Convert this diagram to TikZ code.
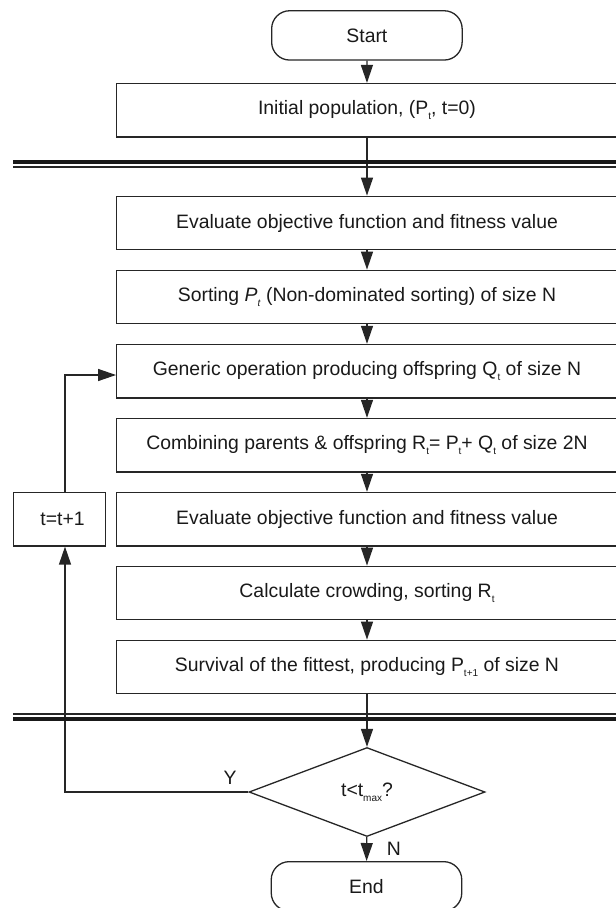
\documentclass[tikz,border=0pt]{standalone}
\usepackage{fontspec}
\setmainfont{Liberation Sans}
\usetikzlibrary{arrows.meta,shapes.geometric,calc}
\newcommand\sbs[1]{\raisebox{-0.45ex}{\fontsize{10}{10}\selectfont #1}}
\begin{document}
\begin{tikzpicture}[x=1pt,y=-1pt,
  every node/.style={font=\fontsize{19.4}{23}\selectfont, text=black!90},
  ln/.style={draw=black!85, line width=1.3pt},
  box/.style={ln, rectangle, minimum width=500.6pt, minimum height=53.5pt, inner sep=0pt},
  term/.style={ln, rectangle, rounded corners=18pt, minimum width=190.5pt, minimum height=49.3pt, inner sep=0pt},
  dec/.style={ln, diamond, minimum width=236pt, minimum height=89pt, inner sep=0pt},
  arr/.style={ln, -{Triangle[length=18pt,width=12pt]}},
  thickrule/.style={draw=black!90, line width=3.6pt},
  thinrule/.style={draw=black!85, line width=1.3pt},
  lbl/.style={inner sep=0pt}
]
\useasboundingbox (0,0) rectangle (616,908);

\node[term] (start) at (366.9,35.4) {Start};
\node[box] (init) at (367,110.3) {Initial population, (P\sbs{t}, t=0)};
\node[box] (ev1) at (367,223) {Evaluate objective function and fitness value};
\node[box] (sort) at (367,297) {Sorting \textit{P}\sbs{\textit{t}} (Non-dominated sorting) of size N};
\node[box] (gen) at (367,371.2) {Generic operation producing offspring Q\sbs{t} of size N};
\node[box] (comb) at (367,445.2) {Combining parents \& offspring R\sbs{t}= P\sbs{t}+ Q\sbs{t} of size 2N};
\node[box] (ev2) at (367,519.2) {Evaluate objective function and fitness value};
\node[box] (calc) at (367,593) {Calculate crowding, sorting R\sbs{t}};
\node[box] (surv) at (367,667) {Survival of the fittest, producing P\sbs{t+1} of size N};
\node[box, minimum width=91.6pt] (tbox) at (59.5,519.2) {\hspace*{6pt}t=t+1};
\node[dec] (dia) at (367,792) {t<t\sbs{max}?};
\node[term] (end) at (366.5,886.3) {End};

\coordinate (lx) at (65,0);
\coordinate (ly) at (0,375);

\draw[arr] (start) -- (init);
\draw[arr] (init) -- (ev1);
\draw[arr] (ev1) -- (sort);
\draw[arr] (sort) -- (gen);
\draw[arr] (gen) -- (comb);
\draw[arr] (comb) -- (ev2);
\draw[arr] (ev2) -- (calc);
\draw[arr] (calc) -- (surv);
\draw[arr] (surv) -- (dia);
\draw[arr] (dia) -- (end);
\draw[arr] (dia.west) -| (tbox.south -| lx);
\draw[arr] (tbox.north -| lx) |- (gen.west |- ly);

\coordinate (r1a) at (13,161.8);
\coordinate (r1b) at (620,161.8);
\coordinate (r2a) at (13,167);
\coordinate (r2b) at (620,167);
\coordinate (r3a) at (13,714);
\coordinate (r3b) at (620,714);
\coordinate (r4a) at (13,718.8);
\coordinate (r4b) at (620,718.8);
\draw[thickrule] (r1a) -- (r1b);
\draw[thinrule] (r2a) -- (r2b);
\draw[thinrule] (r3a) -- (r3b);
\draw[thickrule] (r4a) -- (r4b);

\node[lbl] (ylab) at (230,778) {Y};
\node[lbl] (nlab) at (394,849) {N};
\end{tikzpicture}
\end{document}
